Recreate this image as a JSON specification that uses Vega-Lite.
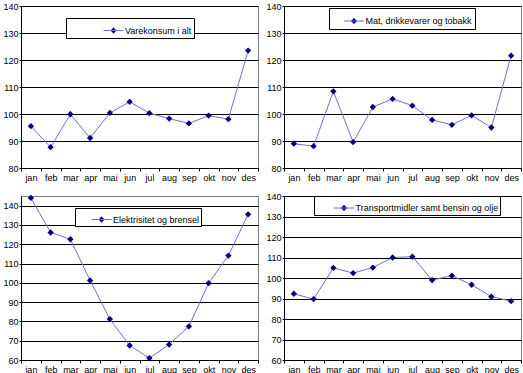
{
  "$schema": "https://vega.github.io/schema/vega-lite/v6.json",
  "padding": {"left": 2, "top": 1, "right": 2, "bottom": 2},
  "background": "white",
  "data": {"values": [
    {"s": "Varekonsum i alt", "m": "jan", "v": 95.5},
    {"s": "Varekonsum i alt", "m": "feb", "v": 87.7},
    {"s": "Varekonsum i alt", "m": "mar", "v": 99.9},
    {"s": "Varekonsum i alt", "m": "apr", "v": 91.1},
    {"s": "Varekonsum i alt", "m": "mai", "v": 100.4},
    {"s": "Varekonsum i alt", "m": "jun", "v": 104.5},
    {"s": "Varekonsum i alt", "m": "jul", "v": 100.3},
    {"s": "Varekonsum i alt", "m": "aug", "v": 98.3},
    {"s": "Varekonsum i alt", "m": "sep", "v": 96.5},
    {"s": "Varekonsum i alt", "m": "okt", "v": 99.4},
    {"s": "Varekonsum i alt", "m": "nov", "v": 98.1},
    {"s": "Varekonsum i alt", "m": "des", "v": 123.5},
    {"s": "Mat, drikkevarer og tobakk", "m": "jan", "v": 89.0},
    {"s": "Mat, drikkevarer og tobakk", "m": "feb", "v": 88.1},
    {"s": "Mat, drikkevarer og tobakk", "m": "mar", "v": 108.4},
    {"s": "Mat, drikkevarer og tobakk", "m": "apr", "v": 89.6},
    {"s": "Mat, drikkevarer og tobakk", "m": "mai", "v": 102.6},
    {"s": "Mat, drikkevarer og tobakk", "m": "jun", "v": 105.6},
    {"s": "Mat, drikkevarer og tobakk", "m": "jul", "v": 103.1},
    {"s": "Mat, drikkevarer og tobakk", "m": "aug", "v": 97.8},
    {"s": "Mat, drikkevarer og tobakk", "m": "sep", "v": 96.0},
    {"s": "Mat, drikkevarer og tobakk", "m": "okt", "v": 99.5},
    {"s": "Mat, drikkevarer og tobakk", "m": "nov", "v": 95.0},
    {"s": "Mat, drikkevarer og tobakk", "m": "des", "v": 121.6},
    {"s": "Elektrisitet og brensel", "m": "jan", "v": 144.0},
    {"s": "Elektrisitet og brensel", "m": "feb", "v": 126.1},
    {"s": "Elektrisitet og brensel", "m": "mar", "v": 122.6},
    {"s": "Elektrisitet og brensel", "m": "apr", "v": 101.2},
    {"s": "Elektrisitet og brensel", "m": "mai", "v": 81.2},
    {"s": "Elektrisitet og brensel", "m": "jun", "v": 67.5},
    {"s": "Elektrisitet og brensel", "m": "jul", "v": 61.0},
    {"s": "Elektrisitet og brensel", "m": "aug", "v": 68.0},
    {"s": "Elektrisitet og brensel", "m": "sep", "v": 77.4},
    {"s": "Elektrisitet og brensel", "m": "okt", "v": 99.8},
    {"s": "Elektrisitet og brensel", "m": "nov", "v": 114.1},
    {"s": "Elektrisitet og brensel", "m": "des", "v": 135.5},
    {"s": "Transportmidler samt bensin og olje", "m": "jan", "v": 92.3},
    {"s": "Transportmidler samt bensin og olje", "m": "feb", "v": 89.7},
    {"s": "Transportmidler samt bensin og olje", "m": "mar", "v": 104.9},
    {"s": "Transportmidler samt bensin og olje", "m": "apr", "v": 102.4},
    {"s": "Transportmidler samt bensin og olje", "m": "mai", "v": 105.1},
    {"s": "Transportmidler samt bensin og olje", "m": "jun", "v": 110.0},
    {"s": "Transportmidler samt bensin og olje", "m": "jul", "v": 110.4},
    {"s": "Transportmidler samt bensin og olje", "m": "aug", "v": 99.0},
    {"s": "Transportmidler samt bensin og olje", "m": "sep", "v": 101.1},
    {"s": "Transportmidler samt bensin og olje", "m": "okt", "v": 96.7},
    {"s": "Transportmidler samt bensin og olje", "m": "nov", "v": 90.9},
    {"s": "Transportmidler samt bensin og olje", "m": "des", "v": 88.7}
  ]},
  "columns": 2,
  "spacing": {"column": 26, "row": 28},
  "bounds": "flush",
  "resolve": {"scale": {"color": "independent", "y": "independent", "x": "independent"}, "legend": {"color": "independent"}},
  "concat": [
    {
      "width": 237, "height": 162,
      "transform": [{"filter": "datum.s === 'Varekonsum i alt'"}],
      "encoding": {
        "x": {"field": "m", "type": "ordinal", "sort": null, "bandPosition": 0.5, "scale": {"type": "band", "paddingInner": 0, "paddingOuter": 0}, "axis": {"title": null}},
        "y": {"field": "v", "type": "quantitative", "scale": {"domain": [80, 140], "nice": false}, "axis": {"title": null, "values": [80, 90, 100, 110, 120, 130, 140]}}
      },
      "layer": [
        {"mark": {"type": "line", "strokeWidth": 1}, "encoding": {"color": {"field": "s", "type": "nominal", "scale": {"range": ["#6f6fd2"]}, "legend": {"orient": "none", "legendX": 45, "legendY": 12, "symbolOffset": 35, "padding": 2, "symbolSize": 400, "labelLimit": 300, "labelExpr": "datum.label + '\u00a0\u00a0\u00a0\u00a0\u00a0\u00a0\u00a0\u00a0\u00a0\u00a0\u00a0\u00a0'", "encode": {"symbols": {"update": {"size": {"value": 400}, "shape": {"value": "M-1,0H1M0,-0.3L0.3,0L0,0.3L-0.3,0Z"}, "fill": {"value": "#000080"}, "stroke": {"value": "#5c5cc8"}, "strokeWidth": {"value": 1}, "opacity": {"value": 1}}}}}}}},
        {"mark": {"type": "point", "shape": "diamond", "filled": true, "size": 40, "color": "#000080", "opacity": 1}}
      ]
    },
    {
      "width": 237, "height": 162,
      "transform": [{"filter": "datum.s === 'Mat, drikkevarer og tobakk'"}],
      "encoding": {
        "x": {"field": "m", "type": "ordinal", "sort": null, "bandPosition": 0.5, "scale": {"type": "band", "paddingInner": 0, "paddingOuter": 0}, "axis": {"title": null}},
        "y": {"field": "v", "type": "quantitative", "scale": {"domain": [80, 140], "nice": false}, "axis": {"title": null, "values": [80, 90, 100, 110, 120, 130, 140]}}
      },
      "layer": [
        {"mark": {"type": "line", "strokeWidth": 1}, "encoding": {"color": {"field": "s", "type": "nominal", "scale": {"range": ["#6f6fd2"]}, "legend": {"orient": "none", "legendX": 45, "legendY": 2, "symbolOffset": 12, "padding": 2.5, "symbolSize": 400, "labelLimit": 300, "labelExpr": "datum.label + '\u00a0\u00a0\u00a0'", "encode": {"symbols": {"update": {"size": {"value": 400}, "shape": {"value": "M-1,0H1M0,-0.3L0.3,0L0,0.3L-0.3,0Z"}, "fill": {"value": "#000080"}, "stroke": {"value": "#5c5cc8"}, "strokeWidth": {"value": 1}, "opacity": {"value": 1}}}}}}}},
        {"mark": {"type": "point", "shape": "diamond", "filled": true, "size": 40, "color": "#000080", "opacity": 1}}
      ]
    },
    {
      "width": 237, "height": 164,
      "transform": [{"filter": "datum.s === 'Elektrisitet og brensel'"}],
      "encoding": {
        "x": {"field": "m", "type": "ordinal", "sort": null, "bandPosition": 0.5, "scale": {"type": "band", "paddingInner": 0, "paddingOuter": 0}, "axis": {"title": null}},
        "y": {"field": "v", "type": "quantitative", "scale": {"domain": [60, 145], "nice": false}, "axis": {"title": null, "values": [60, 70, 80, 90, 100, 110, 120, 130, 140]}}
      },
      "layer": [
        {"mark": {"type": "line", "strokeWidth": 1}, "encoding": {"color": {"field": "s", "type": "nominal", "scale": {"range": ["#6f6fd2"]}, "legend": {"orient": "none", "legendX": 54, "legendY": 12, "symbolOffset": 15, "padding": 1, "symbolSize": 400, "labelLimit": 300, "labelExpr": "datum.label + '\u00a0'", "encode": {"symbols": {"update": {"size": {"value": 400}, "shape": {"value": "M-1,0H1M0,-0.3L0.3,0L0,0.3L-0.3,0Z"}, "fill": {"value": "#000080"}, "stroke": {"value": "#5c5cc8"}, "strokeWidth": {"value": 1}, "opacity": {"value": 1}}}}}}}},
        {"mark": {"type": "point", "shape": "diamond", "filled": true, "size": 40, "color": "#000080", "opacity": 1}}
      ]
    },
    {
      "width": 237, "height": 164,
      "transform": [{"filter": "datum.s === 'Transportmidler samt bensin og olje'"}],
      "encoding": {
        "x": {"field": "m", "type": "ordinal", "sort": null, "bandPosition": 0.5, "scale": {"type": "band", "paddingInner": 0, "paddingOuter": 0}, "axis": {"title": null}},
        "y": {"field": "v", "type": "quantitative", "scale": {"domain": [60, 140], "nice": false}, "axis": {"title": null, "values": [60, 70, 80, 90, 100, 110, 120, 130, 140]}}
      },
      "layer": [
        {"mark": {"type": "line", "strokeWidth": 1}, "encoding": {"color": {"field": "s", "type": "nominal", "scale": {"range": ["#6f6fd2"]}, "legend": {"orient": "none", "legendX": 30, "legendY": 0, "symbolOffset": 18, "padding": 1.5, "symbolSize": 400, "labelLimit": 300, "labelExpr": "datum.label + '\u00a0\u00a0\u00a0\u00a0\u00a0'", "encode": {"symbols": {"update": {"size": {"value": 400}, "shape": {"value": "M-1,0H1M0,-0.3L0.3,0L0,0.3L-0.3,0Z"}, "fill": {"value": "#000080"}, "stroke": {"value": "#5c5cc8"}, "strokeWidth": {"value": 1}, "opacity": {"value": 1}}}}}}}},
        {"mark": {"type": "point", "shape": "diamond", "filled": true, "size": 40, "color": "#000080", "opacity": 1}}
      ]
    }
  ],
  "config": {
    "font": "Liberation Sans",
    "view": {"stroke": "#808080", "strokeWidth": 1},
    "axis": {
      "labelFont": "Liberation Sans", "labelFontSize": 9, "labelColor": "#000", "labelPadding": 2,
      "domainColor": "#000", "tickColor": "#000", "tickSize": 3, "gridColor": "#000", "gridOpacity": 1
    },
    "axisX": {"grid": false, "labelAngle": 0, "tickBand": "extent", "labelPadding": 2},
    "axisY": {"grid": true, "labelPadding": 1, "tickSize": 2},
    "legend": {
      "title": null,
      "fillColor": "white", "strokeColor": "#000", "strokeWidth": 1,
      "labelFont": "Liberation Sans", "labelFontSize": 9, "labelColor": "#000",
      "labelOffset": 1,
      "cornerRadius": 0
    }
  }
}
